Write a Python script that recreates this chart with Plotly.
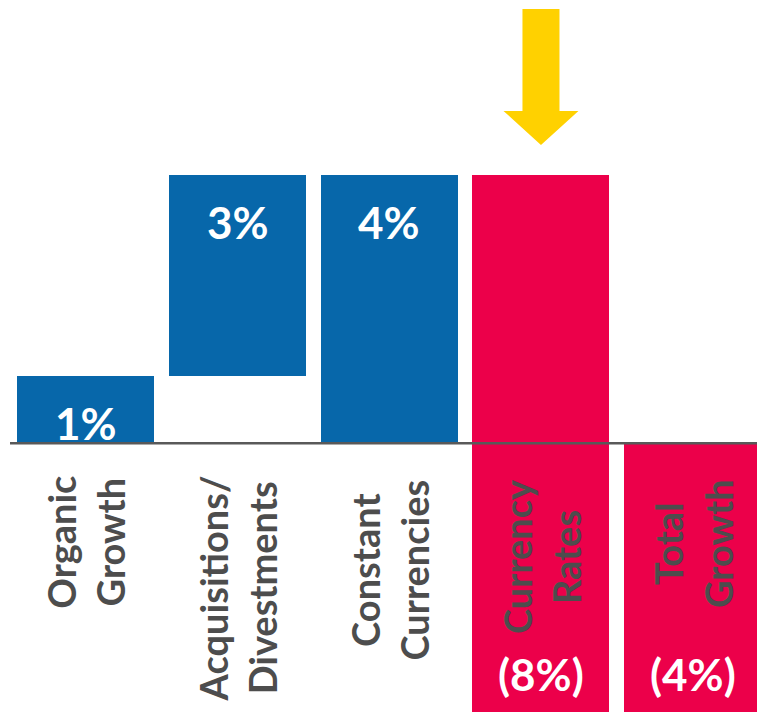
import plotly.graph_objects as go

# ---- data ----
categories = ["Organic<br>Growth", "Acquisitions/<br>Divestments", "Constant<br>Currencies",
              "Currency<br>Rates", "Total<br>Growth"]
values = [1, 3, 4, -8, -4]          # bar lengths (%)
bases = [0, 1, 0, 4, 0]             # waterfall bases (%)
value_labels = ["1%", "3%", "4%", "(8%)", "(4%)"]

# ---- style ----
BLUE = "#0767AA"
RED = "#EC004A"
YELLOW = "#FFD100"
GREY = "#4D4D4D"
FONT = "Lato"
colors = [BLUE if v > 0 else RED for v in values]
label_centers = [0.239, 0.173, 0.199, 0.219, 0.237]  # paper y of category label centers

x = list(range(len(categories)))

fig = go.Figure()
fig.add_trace(go.Bar(
    x=x, y=values, base=bases, width=0.903,
    marker=dict(color=colors, line=dict(width=0)),
    hoverinfo="skip", showlegend=False,
))

ann = []
for i, (v, b, t) in enumerate(zip(values, bases, value_labels)):
    end = b + v
    if v > 0:
        ann.append(dict(x=i, y=end, xref="x", yref="y", text=f"<b>{t}</b>", showarrow=False,
                        yanchor="top", yshift=-19,
                        font=dict(family=FONT, size=44, color="white")))
    else:
        ann.append(dict(x=i, y=end, xref="x", yref="y", text=f"<b>{t}</b>", showarrow=False,
                        yanchor="bottom", yshift=10,
                        font=dict(family=FONT, size=44, color="white")))
for i, (c, yc) in enumerate(zip(categories, label_centers)):
    ann.append(dict(x=i, y=yc, xref="x", yref="paper", text=f"<b>{c}</b>", showarrow=False,
                    textangle=-90, align="center", xanchor="center", yanchor="middle",
                    font=dict(family=FONT, size=38, color=GREY)))

shapes = [
    dict(type="line", xref="x", yref="y", x0=-0.5, x1=5, y0=0, y1=0,
         line=dict(color="#595959", width=2.5), layer="above"),
    dict(type="path", xref="x", yref="y", layer="above",
         path="M 2.878 6.466 L 3.122 6.466 L 3.122 4.948 L 3.247 4.948 L 3.0 4.441 "
              "L 2.753 4.948 L 2.878 4.948 Z",
         fillcolor=YELLOW, line=dict(width=0)),
]

fig.update_layout(
    width=757, height=712,
    margin=dict(l=0, r=0, t=0, b=0),
    paper_bgcolor="white", plot_bgcolor="white",
    xaxis=dict(range=[-0.566, 4.424], visible=False, fixedrange=True),
    yaxis=dict(range=[-4, 6.6], visible=False, fixedrange=True),
    annotations=ann, shapes=shapes,
    bargap=0,
)

fig.write_html("out.html")
